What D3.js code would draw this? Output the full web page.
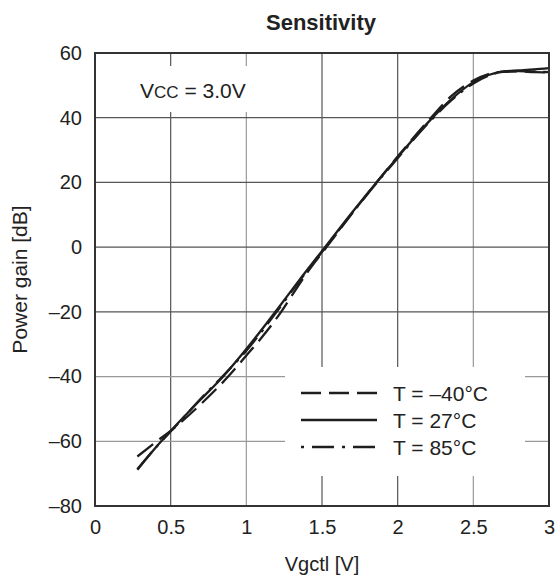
<!DOCTYPE html>
<html>
<head>
<meta charset="utf-8">
<script src="https://cdn.jsdelivr.net/npm/d3@7"></script>
<style>
  html, body { margin: 0; padding: 0; background: #fff; }
  svg { display: block; font-family: "Liberation Sans", Arial, Helvetica, sans-serif; }
</style>
</head>
<body>
<svg id="chart" width="559" height="585"></svg>
<script>
// ---- data ----
const xTicks = [0, 0.5, 1, 1.5, 2, 2.5, 3];
const xTickLabels = ["0", "0.5", "1", "1.5", "2", "2.5", "3"];
const yTicks = [60, 40, 20, 0, -20, -40, -60, -80];
const yTickLabels = ["60", "40", "20", "0", "\u201320", "\u201340", "\u201360", "\u201380"];

const seriesNames = ["T = \u201340\u00b0C", "T = 27\u00b0C", "T = 85\u00b0C"];

const vM40 = [0.28, 0.40, 0.52, 0.70, 0.88, 1.00, 1.10, 1.23, 1.30, 1.40, 1.53, 1.70, 1.86, 2.00, 2.22, 2.35, 2.50, 2.60, 2.70, 2.80, 2.90, 3.00];
const gM40 = [-64.7, -60.3, -56.0, -48.5, -40.0, -33.5, -28.0, -20.0, -15.0, -8.0, 0.0, 10.5, 20.0, 28.0, 40.0, 46.5, 51.5, 53.5, 54.2, 54.3, 54.1, 54.0];

const v27 = [0.28, 0.40, 0.52, 0.70, 0.85, 1.00, 1.20, 1.35, 1.52, 1.70, 1.86, 2.00, 2.22, 2.35, 2.50, 2.60, 2.70, 2.80, 2.90, 3.00];
const g27 = [-68.8, -62.0, -55.8, -47.0, -39.8, -31.5, -19.5, -10.2, 0.0, 10.8, 20.0, 27.8, 39.5, 45.5, 51.0, 53.2, 54.3, 54.6, 54.9, 55.3];

const v85 = [0.28, 0.40, 0.52, 0.70, 0.85, 1.00, 1.20, 1.35, 1.52, 1.70, 1.86, 2.00, 2.22, 2.35, 2.50, 2.60, 2.70, 2.80, 2.90, 3.00];
const g85 = [-68.6, -62.0, -56.0, -46.8, -39.6, -32.0, -20.0, -10.5, -0.3, 10.5, 19.8, 27.5, 39.2, 45.2, 50.6, 53.0, 54.2, 54.4, 54.2, 54.1];

// ---- layout ----
const svg = d3.select("#chart");
const L = 95, R = 549, T = 53, B = 506;
const x = d3.scaleLinear().domain([0, 3]).range([L, R]);
const y = d3.scaleLinear().domain([-80, 60]).range([B, T]);

const darkGrid = "#555", lightGrid = "#999";
const lightX = [1, 2.5], lightY = [-40, -60];

// grid
const g = svg.append("g");
g.selectAll("line.vx").data(xTicks.filter(d => d > 0 && d < 3)).enter().append("line")
  .attr("x1", d => x(d)).attr("x2", d => x(d)).attr("y1", T).attr("y2", B)
  .attr("stroke", d => lightX.includes(d) ? lightGrid : darkGrid).attr("stroke-width", 1.2);
g.selectAll("line.hy").data(yTicks.filter(d => d > -80 && d < 60)).enter().append("line")
  .attr("x1", L).attr("x2", R).attr("y1", d => y(d)).attr("y2", d => y(d))
  .attr("stroke", d => lightY.includes(d) ? lightGrid : darkGrid).attr("stroke-width", 1.2);

// white boxes behind annotation and legend
svg.append("rect").attr("x", 100).attr("y", 66).attr("width", 200).attr("height", 46).attr("fill", "#fff");
svg.append("rect").attr("x", 285).attr("y", 367).attr("width", 240).attr("height", 109).attr("fill", "#fff");

// axes (labels only)
const xAxis = d3.axisBottom(x).tickValues(xTicks).tickFormat((d, i) => xTickLabels[i]).tickSize(0).tickPadding(14);
const ax = svg.append("g").attr("transform", `translate(0,${B})`).call(xAxis);
ax.select(".domain").remove();
ax.selectAll("text").attr("font-size", 20).attr("fill", "#222").attr("font-family", "Liberation Sans, Arial, sans-serif");

const yAxis = d3.axisLeft(y).tickValues(yTicks).tickFormat((d, i) => yTickLabels[i]).tickSize(0).tickPadding(13);
const ay = svg.append("g").attr("transform", `translate(${L},0)`).call(yAxis);
ay.select(".domain").remove();
ay.selectAll("text").attr("font-size", 20).attr("fill", "#222").attr("font-family", "Liberation Sans, Arial, sans-serif");

// curves
const line = d3.line().x(d => x(d[0])).y(d => y(d[1])).curve(d3.curveMonotoneX);
const series = [
  { name: seriesNames[0], pts: d3.zip(vM40, gM40), dash: "20,8" },
  { name: seriesNames[1], pts: d3.zip(v27, g27), dash: null },
  { name: seriesNames[2], pts: d3.zip(v85, g85), dash: "22,7,3,7" }
];
svg.selectAll("path.curve").data(series).enter().append("path")
  .attr("class", "curve")
  .attr("d", d => line(d.pts))
  .attr("fill", "none").attr("stroke", "#1e1e1e").attr("stroke-width", 2.3)
  .attr("stroke-dasharray", d => d.dash);

// frame
svg.append("rect").attr("x", L).attr("y", T).attr("width", R - L).attr("height", B - T)
  .attr("fill", "none").attr("stroke", "#333").attr("stroke-width", 2);

// legend
const legY = [393, 420, 447];
const leg = svg.append("g");
series.forEach((s, i) => {
  leg.append("line").attr("x1", 301).attr("x2", 377).attr("y1", legY[i]).attr("y2", legY[i])
    .attr("stroke", "#1e1e1e").attr("stroke-width", 2.3)
    .attr("stroke-dasharray", i === 2 ? "3,8,22,8" : s.dash);
  leg.append("text").attr("x", 393).attr("y", legY[i] + 7.5).attr("font-size", 21).attr("fill", "#222").text(s.name);
});

// annotation Vcc = 3.0V
const ann = svg.append("text").attr("x", 140).attr("y", 98).attr("font-size", 21).attr("fill", "#222");
ann.append("tspan").text("V");
ann.append("tspan").attr("font-size", 17).text("CC");
ann.append("tspan").text(" = 3.0V");

// title & axis titles
svg.append("text").attr("x", 321).attr("y", 30).attr("text-anchor", "middle")
  .attr("font-size", 22).attr("font-weight", "bold").attr("fill", "#222").text("Sensitivity");
svg.append("text").attr("x", 322).attr("y", 571).attr("text-anchor", "middle")
  .attr("font-size", 20).attr("fill", "#222").text("Vgctl [V]");
svg.append("text").attr("transform", `translate(27,${(T + B) / 2}) rotate(-90)`).attr("text-anchor", "middle")
  .attr("font-size", 21).attr("fill", "#222").text("Power gain [dB]");
</script>
</body>
</html>
